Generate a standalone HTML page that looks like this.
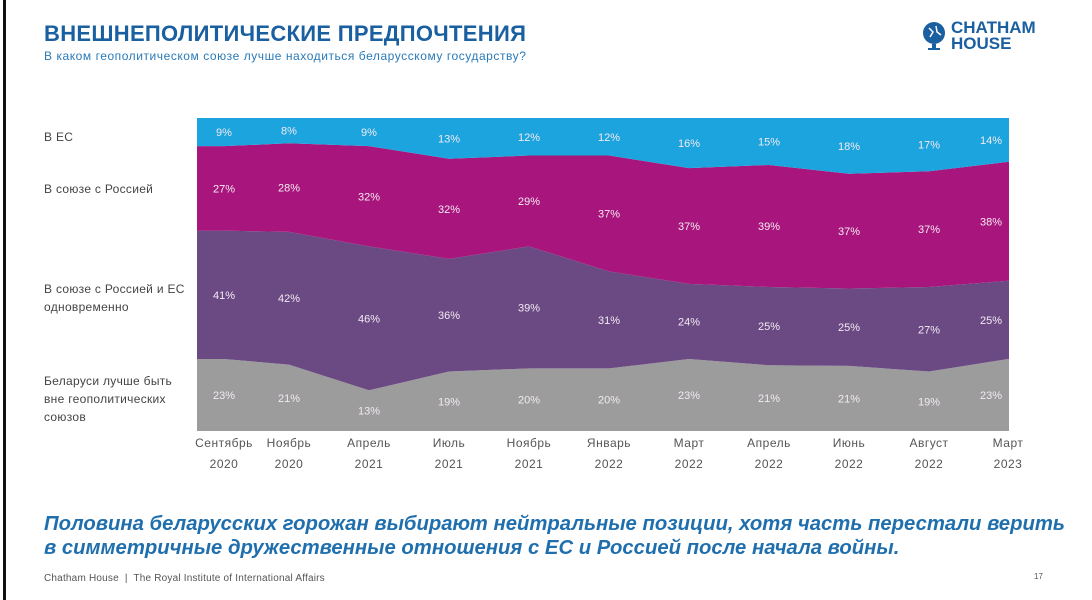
<!DOCTYPE html>
<html><head><meta charset="utf-8">
<style>
html,body{margin:0;padding:0;background:#fff;}
body{width:1092px;height:600px;position:relative;overflow:hidden;font-family:"Liberation Sans",sans-serif;}
.lb{position:absolute;left:3px;top:0;width:3px;height:600px;background:#111;}
.t{position:absolute;left:44px;top:21px;font-size:22px;font-weight:bold;color:#1a5fa0;letter-spacing:0.3px;}
.st{position:absolute;left:44px;top:49px;font-size:12px;letter-spacing:0.55px;color:#2a7ab8;}
.cat{position:absolute;left:44px;font-size:12px;letter-spacing:0.3px;color:#444;line-height:18px;}
.concl{position:absolute;left:44px;top:512px;font-size:20.3px;font-weight:bold;font-style:italic;color:#1f6fae;line-height:24px;white-space:nowrap;}
.ft{position:absolute;left:44px;top:573px;font-size:10px;letter-spacing:0.2px;color:#555;}
.pg{position:absolute;left:1034px;top:572px;font-size:8px;color:#555;}
.logo{position:absolute;left:921px;top:20px;}
.logo .tx{position:absolute;left:30px;top:0;font-size:17px;font-weight:bold;color:#1a5fa0;line-height:16px;white-space:nowrap;}
</style></head><body>
<div class="lb"></div>
<div class="t">ВНЕШНЕПОЛИТИЧЕСКИЕ ПРЕДПОЧТЕНИЯ</div>
<div class="st">В каком геополитическом союзе лучше находиться беларусскому государству?</div>
<div class="logo">
<svg width="28" height="32"><circle cx="13" cy="13" r="11" fill="#1a5fa0"/><path d="M8 8 L12 12 L9 17 M15 6 L16 12 L20 15" stroke="#fff" stroke-width="1.5" fill="none"/><rect x="11" y="24" width="4" height="4" fill="#1a5fa0"/><rect x="7" y="28" width="12" height="2" fill="#1a5fa0"/></svg>
<div class="tx">CHATHAM<br>HOUSE</div></div>
<div class="cat" style="top:128px">В ЕС</div>
<div class="cat" style="top:180px">В союзе с Россией</div>
<div class="cat" style="top:280px">В союзе с Россией и ЕС<br>одновременно</div>
<div class="cat" style="top:372px">Беларуси лучше быть<br>вне геополитических<br>союзов</div>
<svg id="ch" style="position:absolute;left:0;top:0" width="1092" height="600"></svg>
<div class="concl">Половина беларусских горожан выбирают нейтральные позиции, хотя часть перестали верить<br>в симметричные дружественные отношения с ЕС и Россией после начала войны.</div>
<div class="ft">Chatham House &nbsp;|&nbsp; The Royal Institute of International Affairs</div>
<div class="pg">17</div>
<script>
(function(){
var xs=[224,289,369,449,529,609,689,769,849,929,1008];
var lx=[224,289,369,449,529,609,689,769,849,929,991];
var eu=[9,8,9,13,12,12,16,15,18,17,14],ru=[27,28,32,32,29,37,37,39,37,37,38],bo=[41,42,46,36,39,31,24,25,25,27,25],ne=[23,21,13,19,20,20,23,21,21,19,23];
var T=118,B=431,H=B-T,L=197,R=1009;
var layers=[ne,bo,ru,eu],cols=["#9c9c9c","#6b4a84","#a8157c","#1ba4de"];
var cum=xs.map(function(){return 0});
var bounds=[xs.map(function(){return B})];
var s="",labels="";
for(var k=0;k<4;k++){var b=[];for(var i=0;i<11;i++){var sum=ne[i]+bo[i]+ru[i]+eu[i];var y0=B-H*cum[i]/sum;cum[i]+=layers[k][i];var y1=B-H*cum[i]/sum;b.push(y1);
labels+='<text x="'+lx[i]+'" y="'+((y0+y1)/2+4)+'" text-anchor="middle" font-size="11" fill="#f3eaf3" font-family="Liberation Sans, sans-serif">'+layers[k][i]+'%</text>';}bounds.push(b);}
function pts(b){var p=[[L,b[0]]];for(var i=0;i<11;i++)p.push([xs[i],b[i]]);p.push([R,b[10]]);return p;}
for(var k=0;k<4;k++){var up=pts(bounds[k+1]),dn=pts(bounds[k]).reverse();var d="M"+up.concat(dn).map(function(p){return p[0]+","+p[1]}).join(" L")+"Z";s+='<path d="'+d+'" fill="'+cols[k]+'"/>';}
var mon=["Сентябрь","Ноябрь","Апрель","Июль","Ноябрь","Январь","Март","Апрель","Июнь","Август","Март"],yr=["2020","2020","2021","2021","2021","2022","2022","2022","2022","2022","2023"];
for(var i=0;i<11;i++){s+='<text x="'+xs[i]+'" y="447" text-anchor="middle" font-size="12" letter-spacing="0.5" fill="#555" font-family="Liberation Sans, sans-serif">'+mon[i]+'</text><text x="'+xs[i]+'" y="468" text-anchor="middle" font-size="12" letter-spacing="0.5" fill="#555" font-family="Liberation Sans, sans-serif">'+yr[i]+'</text>';}
document.getElementById("ch").innerHTML=s+labels;
})();
</script>
</body></html>
